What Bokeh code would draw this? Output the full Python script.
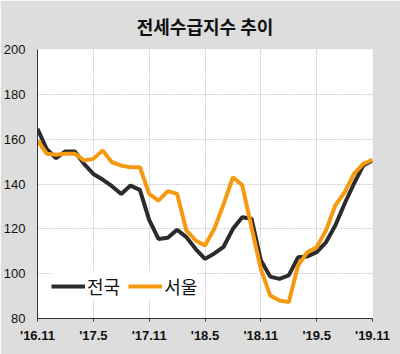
from bokeh.plotting import figure
from bokeh.models import FixedTicker, Legend, LegendItem, Range1d
from bokeh.embed import file_html
from bokeh.resources import INLINE

month_labels = ["'16.11", "'17.5", "'17.11", "'18.5", "'18.11", "'19.5", "'19.11"]
tick_positions = [0, 6, 12, 18, 24, 30, 36]

national = [164.6, 155.5, 151.5, 154.5, 154.5, 149.0, 144.5, 142.0, 139.0, 135.5,
            139.3, 137.4, 124.0, 115.5, 116.0, 119.6, 116.3, 111.0, 106.6, 109.0,
            112.0, 120.0, 125.2, 124.5, 106.0, 98.7, 97.7, 99.2, 107.3, 107.7,
            109.6, 114.0, 121.5, 131.2, 140.1, 148.2, 150.5]
seoul = [159.4, 153.5, 153.0, 153.5, 153.5, 150.5, 151.2, 155.0, 149.7, 148.2,
         147.5, 147.5, 135.6, 132.6, 136.8, 135.6, 119.3, 114.8, 112.6, 120.0,
         131.0, 143.0, 139.5, 120.7, 102.0, 90.3, 88.0, 87.3, 103.6, 109.6,
         111.8, 119.3, 130.4, 136.3, 144.5, 149.0, 150.8]
months = list(range(len(national)))

BG = "#dddddd"
p = figure(width=400, height=354, output_backend="svg", toolbar_location=None,
           x_range=Range1d(0, 36), y_range=Range1d(80, 200),
           min_border_left=37, min_border_right=28, min_border_top=49, min_border_bottom=36,
           background_fill_color="white", border_fill_color=BG, outline_line_color=None)

p.title.text = "전세수급지수 추이"
p.title.align = "center"
p.title.text_font = "Noto Sans CJK KR"
p.title.text_font_style = "bold"
p.title.text_font_size = "18px"
p.title.text_color = "#111111"
p.title.standoff = 21

r1 = p.line(months, national, line_color="#2b2b2b", line_width=4)
r2 = p.line(months, seoul, line_color="#f59a10", line_width=4)

p.xaxis.ticker = FixedTicker(ticks=tick_positions)
p.xaxis.major_label_overrides = {t: l for t, l in zip(tick_positions, month_labels)}
p.xaxis.major_label_text_font = "Liberation Sans"
p.xaxis.major_label_text_font_style = "bold"
p.xaxis.major_label_text_font_size = "13px"
p.xaxis.major_label_text_color = "#111111"
p.xaxis.major_tick_in = 0
p.xaxis.major_tick_out = 3
p.xaxis.minor_tick_line_color = None
p.xaxis.axis_line_color = "#333333"
p.xaxis.major_tick_line_color = "#333333"
p.xaxis.major_label_standoff = 6

p.yaxis.ticker = FixedTicker(ticks=[80, 100, 120, 140, 160, 180, 200])
p.yaxis.major_label_text_font = "Liberation Sans"
p.yaxis.major_label_text_font_size = "13px"
p.yaxis.major_label_text_color = "#111111"
p.yaxis.major_tick_in = 0
p.yaxis.major_tick_out = 0
p.yaxis.minor_tick_line_color = None
p.yaxis.axis_line_color = "#333333"
p.yaxis.major_label_standoff = 12

p.grid.grid_line_color = "#cfcfcf"
p.grid.grid_line_dash = "2 1"
p.grid.grid_line_width = 1

legend = Legend(items=[LegendItem(label="전국", renderers=[r1]),
                       LegendItem(label="서울", renderers=[r2])],
                orientation="horizontal", location=(14, 19))
legend.label_text_font = "Noto Sans CJK KR"
legend.label_text_font_size = "18px"
legend.label_text_color = "#111111"
legend.glyph_width = 34
legend.label_standoff = 2
legend.spacing = 8
legend.padding = 0
legend.margin = 0
legend.border_line_color = None
legend.background_fill_alpha = 1.0
p.add_layout(legend)

open("out.html", "w").write(file_html(p, INLINE))
